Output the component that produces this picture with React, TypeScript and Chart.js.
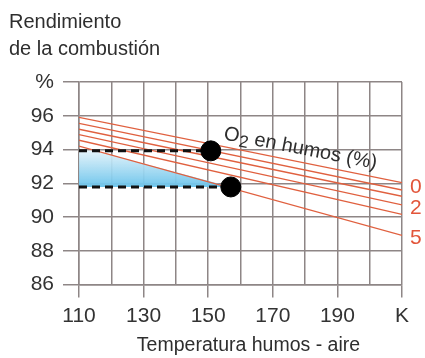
import React, { useEffect, useRef } from 'react';
import { Chart, registerables } from 'chart.js';

Chart.register(...registerables);

// Temperature axis (flue gas - air), K
const T_MIN = 110;
const T_MAX = 210;
const T_LABELED = [110, 130, 150, 170, 190];
// Efficiency axis, %
const EFF_MIN = 86;
const EFF_MAX = 98;

// O2 in flue gas lines (0..5 %): efficiency at T=110 and T=210
const O2_LEVELS = [0, 1, 2, 3, 4, 5];
const EFF_AT_110 = [95.9, 95.55, 95.2, 94.88, 94.55, 94.2];
const EFF_AT_210 = [92.04, 91.6, 91.23, 90.72, 90.16, 88.91];

// Highlighted operating points
const POINT_T = [150.8, 157];
const POINT_EFF = [93.92, 91.78];

// Right-side O2 labels
const O2_LABELS = ['0', '2', '5'];
const O2_LABEL_EFF = [91.74, 90.5, 88.72];

const RED = '#e0603f';
const GRID = '#8e8686';
const FONT = '"Liberation Sans", Arial, Helvetica, sans-serif';

function lineAt(i: number, t: number) {
  return EFF_AT_110[i] + ((EFF_AT_210[i] - EFF_AT_110[i]) * (t - T_MIN)) / (T_MAX - T_MIN);
}

export default function App() {
  const ref = useRef<HTMLCanvasElement | null>(null);

  useEffect(() => {
    if (!ref.current) return;
    const last = O2_LEVELS.length - 1;
    const top = POINT_EFF[0];
    const floor = POINT_EFF[1];
    const slope = (EFF_AT_210[last] - EFF_AT_110[last]) / (T_MAX - T_MIN);
    const tCross = T_MIN + (top - EFF_AT_110[last]) / slope;
    const fillData = [
      { x: T_MIN, y: Math.min(top, lineAt(last, T_MIN)) },
      { x: tCross, y: top },
      { x: POINT_T[1], y: Math.max(floor, lineAt(last, POINT_T[1])) },
    ];

    const redSets = O2_LEVELS.map((lvl, i) => ({
      type: 'line' as const,
      label: 'O2 ' + lvl,
      data: [
        { x: T_MIN, y: EFF_AT_110[i] },
        { x: T_MAX, y: EFF_AT_210[i] },
      ],
      borderColor: RED,
      borderWidth: 1.3,
      pointRadius: 0,
      fill: false,
      order: 2,
    }));

    const dashedSets = POINT_T.map((t, i) => ({
      type: 'line' as const,
      label: 'dash' + i,
      data: [
        { x: T_MIN, y: POINT_EFF[i] },
        { x: t, y: POINT_EFF[i] },
      ],
      borderColor: '#111',
      borderWidth: 3,
      borderDash: [8, 5],
      pointRadius: 0,
      fill: false,
      order: 1,
    }));

    const textPlugin = {
      id: 'texts',
      afterDraw(chart: any) {
        const ctx = chart.ctx as CanvasRenderingContext2D;
        const ca = chart.chartArea;
        const xs = chart.scales.x;
        const ys = chart.scales.y;
        ctx.save();
        ctx.fillStyle = '#2e2e2e';
        ctx.font = '20px ' + FONT;
        ctx.textAlign = 'left';
        ctx.textBaseline = 'alphabetic';
        ctx.fillText('Rendimiento', 9, 28);
        ctx.fillText('de la combustión', 9, 55);

        ctx.font = '19.5px ' + FONT;
        ctx.textAlign = 'center';
        ctx.fillText('Temperatura humos - aire', (ca.left + ca.right) / 2 + 8, 351);

        // right O2 labels
        ctx.fillStyle = '#e2553a';
        ctx.font = '21px ' + FONT;
        ctx.textAlign = 'left';
        ctx.textBaseline = 'middle';
        O2_LABELS.forEach((s, i) => {
          ctx.fillText(s, ca.right + 8, ys.getPixelForValue(O2_LABEL_EFF[i]));
        });

        // rotated annotation
        const ax = xs.getPixelForValue(154.6);
        const ay = ys.getPixelForValue(94.61);
        ctx.translate(ax, ay);
        ctx.rotate((11 * Math.PI) / 180);
        ctx.fillStyle = '#2e2e2e';
        ctx.textBaseline = 'alphabetic';
        ctx.font = '20px ' + FONT;
        ctx.fillText('O', 0, 0);
        let w = ctx.measureText('O').width;
        ctx.font = '17px ' + FONT;
        ctx.fillText('2', w + 0.5, 4);
        w += ctx.measureText('2').width + 0.5;
        ctx.font = '20px ' + FONT;
        ctx.fillText(' en humos (%)', w, 0);
        ctx.restore();
      },
    };

    const chart = new Chart(ref.current, {
      type: 'line',
      data: {
        datasets: [
          {
            type: 'scatter' as const,
            label: 'points',
            data: POINT_T.map((t, i) => ({ x: t, y: POINT_EFF[i] })),
            pointRadius: 10,
            pointBackgroundColor: '#000',
            pointBorderColor: '#000',
            showLine: false,
            order: 0,
          },
          ...dashedSets,
          ...redSets,
          {
            type: 'line' as const,
            label: 'area',
            data: fillData,
            borderWidth: 0,
            borderColor: 'rgba(0,0,0,0)',
            pointRadius: 0,
            fill: { value: floor },
            backgroundColor: (c: any) => {
              const ch = c.chart;
              if (!ch.chartArea) return 'rgba(140,205,235,0.6)';
              const y0 = ch.scales.y.getPixelForValue(top);
              const y1 = ch.scales.y.getPixelForValue(floor);
              const g = ch.ctx.createLinearGradient(0, y0, 0, y1);
              g.addColorStop(0, 'rgba(225,242,250,0.9)');
              g.addColorStop(1, 'rgba(105,195,235,0.95)');
              return g;
            },
            order: 3,
          },
        ],
      } as any,
      options: {
        animation: false,
        responsive: false,
        devicePixelRatio: 1,
        layout: { padding: { top: 82, right: 23, left: 0, bottom: 0 } },
        plugins: { legend: { display: false }, tooltip: { enabled: false }, title: { display: false } },
        scales: {
          x: {
            type: 'linear',
            min: T_MIN,
            max: T_MAX,
            afterFit: (s: any) => {
              s.height = 73.5;
            },
            ticks: {
              stepSize: 10,
              autoSkip: false,
              maxRotation: 0,
              padding: 6,
              color: '#333',
              font: { family: FONT, size: 21 },
              callback: (v: any) => {
                const n = Number(v);
                if (n === T_MAX) return 'K';
                return T_LABELED.includes(n) ? String(n) : '';
              },
            },
            grid: {
              color: GRID,
              lineWidth: 1.5,
              tickLength: 13,
              tickColor: (c: any) =>
                c.tick && (c.tick.value === T_MAX || T_LABELED.includes(c.tick.value)) ? GRID : 'rgba(0,0,0,0)',
            },
            border: { color: GRID, width: 1.5 },
          },
          y: {
            type: 'linear',
            min: EFF_MIN,
            max: EFF_MAX,
            afterFit: (s: any) => {
              s.width = 79;
            },
            ticks: {
              stepSize: 2,
              padding: 9,
              color: '#333',
              font: { family: FONT, size: 21 },
              callback: (v: any) => (Number(v) === EFF_MAX ? '%' : String(v)),
            },
            grid: { color: GRID, lineWidth: 1.5, tickLength: 16 },
            border: { color: GRID, width: 1.5 },
          },
        },
      },
      plugins: [textPlugin],
    });
    return () => chart.destroy();
  }, []);

  return (
    <div style={{ position: 'absolute', left: 0, top: 0, width: 425, height: 358, background: '#fff' }}>
      <canvas ref={ref} width={425} height={358} style={{ width: 425, height: 358, display: 'block' }} />
    </div>
  );
}
